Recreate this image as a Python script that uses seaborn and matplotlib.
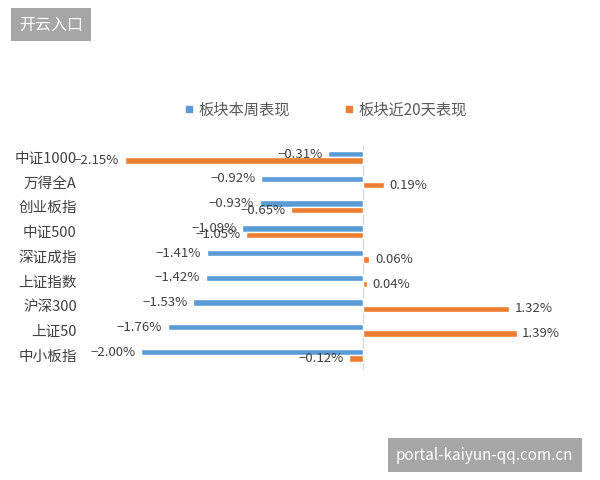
"""
板块表现对比：本周 vs 近20天（横向分组条形图）
"""
import matplotlib
matplotlib.use('Agg')
import matplotlib.pyplot as plt
import seaborn as sns
import pandas as pd

# ================================================================================
# DATA
# ================================================================================

categories = ['中证1000', '万得全A', '创业板指', '中证500', '深证成指',
              '上证指数', '沪深300', '上证50', '中小板指']
week_perf = [-0.31, -0.92, -0.93, -1.09, -1.41, -1.42, -1.53, -1.76, -2.00]
d20_perf = [-2.15, 0.19, -0.65, -1.05, 0.06, 0.04, 1.32, 1.39, -0.12]
series_names = ['板块本周表现', '板块近20天表现']

# ================================================================================
# STYLE
# ================================================================================

sns.set_style('white')
plt.rcParams['font.family'] = ['Noto Sans CJK SC', 'DejaVu Sans']
plt.rcParams['axes.unicode_minus'] = True

colors = {'week': '#5B9BD5', 'd20': '#ED7D31', 'text': '#404040',
          'zero': '#D9D9D9', 'mark': '#A6A6A6'}

df = pd.DataFrame({
    'name': categories * 2,
    'value': week_perf + d20_perf,
    'series': [series_names[0]] * len(categories) + [series_names[1]] * len(categories),
})

fig = plt.figure(figsize=(6, 4.8), dpi=100)
ax = fig.add_axes([0.158, 0.229, 0.80, 0.469])

sns.barplot(data=df, y='name', x='value', hue='series', order=categories,
            hue_order=series_names, palette=[colors['week'], colors['d20']],
            orient='h', width=0.52, dodge=True, saturation=1, ax=ax, legend=False)

# Ligne zéro
ax.axvline(0, color=colors['zero'], linewidth=1, zorder=0)

# Étiquettes de valeurs (chevauchements présents aussi dans l'original)
for cont, vals in zip(ax.containers, [week_perf, d20_perf]):
    labels = [f'{v:.2f}%'.replace('-', '−') for v in vals]
    ax.bar_label(cont, labels=labels, padding=4, fontsize=9.5, color=colors['text'])

ax.set_xlim(-2.42, 1.915)
ax.set_ylim(8.6, -0.5)
ax.set_xlabel('')
ax.set_ylabel('')
ax.set_xticks([])
ax.tick_params(axis='y', length=0, pad=13, labelsize=10.5, labelcolor=colors['text'])
for s in ax.spines.values():
    s.set_visible(False)

# Légende
handles = [plt.Line2D([], [], marker='s', linestyle='', markersize=4,
                      color=c) for c in (colors['week'], colors['d20'])]
fig.legend(handles, series_names, loc='center', bbox_to_anchor=(0.543, 0.771),
           ncol=2, frameon=False, fontsize=11, handlelength=0.6, handletextpad=0.3,
           columnspacing=3.6, labelcolor='#595959')

# Filigranes
fig.text(0.085, 0.948, '开云入口', ha='center', va='center', fontsize=11.5,
         color='white', bbox=dict(boxstyle='square,pad=0.5', facecolor=colors['mark'],
                                  edgecolor='none'))
fig.text(0.808, 0.052, 'portal-kaiyun-qq.com.cn', ha='center', va='center',
         fontsize=11, color='white',
         bbox=dict(boxstyle='square,pad=0.55', facecolor=colors['mark'], edgecolor='none'))

plt.savefig('out.png', dpi=100)
